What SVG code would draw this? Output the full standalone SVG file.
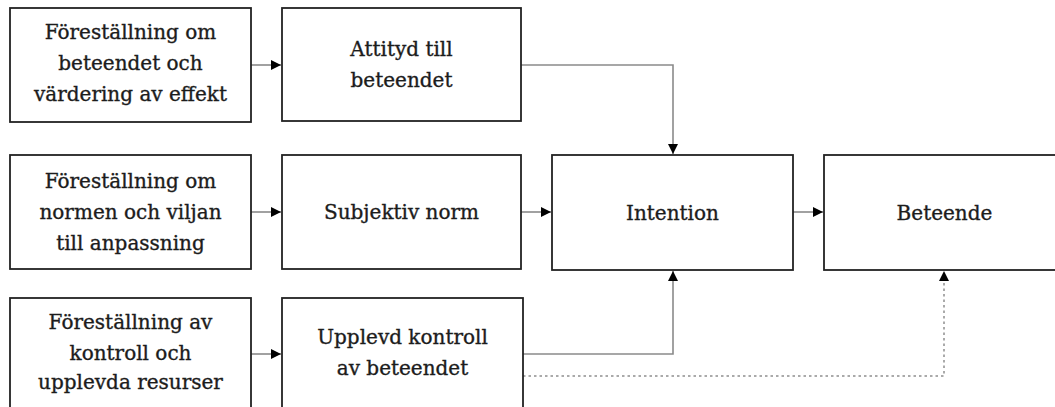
<svg xmlns="http://www.w3.org/2000/svg" width="1055" height="407" viewBox="0 0 1055 407">
<style>
.box{fill:#fff;stroke:#222;stroke-width:1.8}
.t{font-family:"DejaVu Serif",serif;font-size:20px;fill:#1c1c1c;stroke:#1c1c1c;stroke-width:0.35;text-anchor:middle}
.c{fill:none;stroke:#8a8a8a;stroke-width:1.6}
.d{fill:none;stroke:#aaa;stroke-width:2;stroke-dasharray:2.5 3}
</style>
<defs>
<marker id="ah" viewBox="0 0 10 10" refX="10" refY="5" markerWidth="10" markerHeight="10" markerUnits="userSpaceOnUse" orient="auto">
<path d="M0,0 L10,5 L0,10 z" fill="#000"/>
</marker>
</defs>
<rect width="1055" height="407" fill="#fff"/>
<g id="connectors">
<line class="c" x1="251" y1="65" x2="281" y2="65" marker-end="url(#ah)"/>
<line class="c" x1="251" y1="212" x2="281" y2="212" marker-end="url(#ah)"/>
<line class="c" x1="251" y1="354" x2="281" y2="354" marker-end="url(#ah)"/>
<line class="c" x1="521" y1="212" x2="551" y2="212" marker-end="url(#ah)"/>
<line class="c" x1="793" y1="212" x2="823" y2="212" marker-end="url(#ah)"/>
<polyline class="c" points="521,65 673,65 673,154" marker-end="url(#ah)"/>
<polyline class="c" points="523,354 673,354 673,271" marker-end="url(#ah)"/>
<polyline class="d" points="523,376 944,376 944,280"/>
<path d="M939,281 L944,271 L949,281 z" fill="#000"/>
</g>
<g id="n1"><rect class="box" x="10" y="8" width="241" height="114"/>
<text class="t" x="130.5" y="39">Föreställning om</text><text class="t" x="130.5" y="70">beteendet och</text><text class="t" x="130.5" y="101">värdering av effekt</text></g>
<g id="n2"><rect class="box" x="282" y="8" width="239" height="113"/>
<text class="t" x="401.5" y="56">Attityd till</text><text class="t" x="401.5" y="87">beteendet</text></g>
<g id="n3"><rect class="box" x="10" y="155" width="241" height="114"/>
<text class="t" x="130.5" y="188">Föreställning om</text><text class="t" x="130.5" y="219">normen och viljan</text><text class="t" x="130.5" y="250">till anpassning</text></g>
<g id="n4"><rect class="box" x="282" y="155" width="239" height="114"/>
<text class="t" x="401.5" y="219">Subjektiv norm</text></g>
<g id="n5"><rect class="box" x="552" y="155" width="241" height="115"/>
<text class="t" x="672.5" y="220">Intention</text></g>
<g id="n6"><rect class="box" x="824" y="155" width="241" height="115"/>
<text class="t" x="944.5" y="220">Beteende</text></g>
<g id="n7"><rect class="box" x="10" y="298" width="241" height="115"/>
<text class="t" x="130.5" y="329">Föreställning av</text><text class="t" x="130.5" y="360">kontroll och</text><text class="t" x="130.5" y="389">upplevda resurser</text></g>
<g id="n8"><rect class="box" x="282" y="298" width="241" height="115"/>
<text class="t" x="402.5" y="344">Upplevd kontroll</text><text class="t" x="402.5" y="375">av beteendet</text></g>
</svg>
